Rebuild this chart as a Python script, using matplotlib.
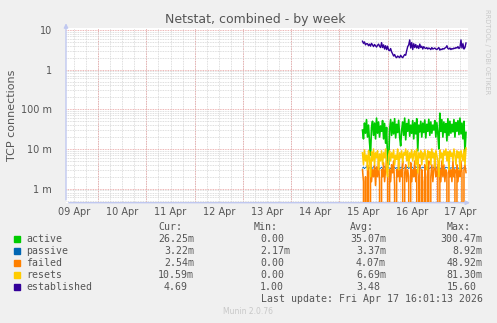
import numpy as np
import matplotlib
matplotlib.use("Agg")
import matplotlib.pyplot as plt
from matplotlib.ticker import FixedLocator, NullFormatter

# Munin netstat week graph, x in hours since 09 Apr 00:00
W, H = 497, 323
day_labels = ["09 Apr", "10 Apr", "11 Apr", "12 Apr", "13 Apr", "14 Apr", "15 Apr", "16 Apr", "17 Apr"]
t_start = 155.5  # first sample (15 Apr ~11:30), half-hour steps

# values in milli-connections
active_m = [30, 18, 45, 25, 55, 20, 40, 15, 7, 35,
            50, 22, 45, 18, 60, 25, 48, 20, 38, 28,
            52, 18, 44, 14, 35, 5, 4, 30, 55, 22,
            47, 24, 58, 19, 42, 26, 53, 20, 12, 30,
            48, 22, 60, 17, 44, 28, 55, 21, 40, 25,
            52, 18, 46, 24, 58, 9, 40, 27, 50, 20,
            45, 26, 54, 19, 42, 28, 56, 22, 48, 25,
            40, 30, 52, 20, 46, 24, 10, 80, 28, 55,
            20, 48, 26, 44, 16, 58, 22, 50, 25, 42,
            27, 55, 20, 46, 28, 52, 23, 60, 24, 45,
            18, 50, 8, 26.25]
passive_m = [3.3, 3.5, 3.2, 3.4, 3.6, 3.3, 3.1, 3.4, 3.5, 3.2,
             3.3, 3.6, 3.4, 3.2, 3.5, 3.3, 3.4, 3.1, 3.3, 3.5,
             3.2, 3.4, 3.6, 3.3, 3.2, 3.5, 3.4, 3.3, 3.2, 3.6,
             3.4, 3.3, 3.5, 3.2, 3.4, 3.3, 3.6, 3.2, 3.4, 3.5,
             3.3, 3.2, 3.4, 3.6, 3.3, 3.5, 3.2, 3.4, 3.3, 3.5,
             3.4, 3.2, 3.3, 3.6, 3.4, 3.3, 3.5, 3.2, 3.4, 3.3,
             3.5, 3.4, 3.2, 3.3, 3.6, 3.4, 3.3, 3.2, 3.5, 3.4,
             3.3, 3.5, 3.2, 3.4, 3.3, 3.6, 3.4, 3.2, 3.3, 3.5,
             3.4, 3.3, 3.2, 3.5, 3.4, 3.3, 3.6, 3.2, 3.4, 3.3,
             3.5, 3.2, 3.4, 3.3, 3.5, 3.4, 3.2, 3.3, 3.4, 3.2,
             3.3, 3.4, 3.2, 3.22]
failed_m = [3, 1.5, 0, 2, 0, 4, 2.5, 0, 5, 1.5,
            3, 2, 4, 1.2, 3.5, 2, 5, 1.5, 0, 3,
            2, 4.5, 1.5, 3, 5, 2, 0, 3, 1.5, 4,
            2.5, 5, 1.2, 0, 3, 2, 4.5, 1.5, 3, 2,
            5, 0, 2.5, 4, 1.5, 3, 2, 0, 4.5, 1.5,
            3, 2, 5, 1.5, 3, 0, 2, 4, 0, 3,
            1.5, 0, 4, 2, 0, 3, 5, 0, 2, 4,
            1.5, 3, 5, 2, 2.5, 4, 0, 3, 1.5, 5,
            2, 4, 1.5, 3, 2.5, 0, 4.5, 2, 3, 1.5,
            5, 2, 3, 0, 4, 1.5, 3, 2, 5, 2.5,
            0, 3, 4, 2.54]
resets_m = [8, 4, 9.5, 5, 7, 3, 9, 6, 2, 8.5,
            5, 10, 4, 8, 6, 9, 3, 7.5, 5, 9,
            4, 8, 6, 10, 3, 2, 7, 9, 5, 8,
            6, 9.5, 4, 7, 5.5, 10, 3, 8, 6, 9,
            4.5, 8, 7, 10, 5, 9, 3.5, 8, 6, 9.5,
            5, 7.5, 9, 4, 10, 2.5, 8, 6, 9, 4,
            8, 5.5, 9.5, 7, 3, 9, 6, 8.5, 4, 10,
            6, 8, 3.5, 9, 7, 5, 2, 9.5, 6, 8,
            4, 9, 7, 10, 5, 8.5, 3, 9, 6.5, 8,
            5, 10, 7, 4, 9, 6, 8.5, 3, 9, 7,
            5, 9.5, 4, 10.59]
established = [5.2, 4.6, 5.0, 4.2, 4.5,
               4.5, 4.0, 4.4, 3.9, 4.6, 4.2, 3.8, 4.3, 4.0, 3.7, 4.1, 4.4, 3.9, 3.6,
               4.8, 3.6, 4.2, 3.3, 4.0, 3.2, 3.9, 3.1, 3.0, 3.4, 2.8, 2.5, 2.2, 2.4,
               2.1, 2.0, 2.2, 2.1, 2.0, 2.3, 2.1, 2.0, 2.2, 2.4, 2.3,
               3.0, 3.8, 4.2, 5.6, 3.5, 4.8, 3.2,
               4.5, 3.6, 4.3, 3.5, 4.0, 3.4, 4.4, 3.6, 3.9, 3.3,
               3.8, 3.5, 3.4, 3.6, 3.3, 3.5, 3.4, 3.2, 3.6, 3.3,
               3.4, 3.5, 3.3, 3.2, 3.4, 3.6, 3.1, 3.3, 3.2, 3.4,
               3.3, 3.5, 3.6, 4.0, 3.4, 3.3, 3.5, 3.2, 3.4, 3.3,
               3.5, 3.4, 3.6, 3.5, 3.8, 3.4, 3.6, 5.6, 3.5, 4.5,
               3.3, 3.6, 4.69]

names = ["active", "passive", "failed", "resets", "established"]
colors = ["#00CC00", "#0066B3", "#FF8000", "#FFCC00", "#330099"]
cur = ["26.25m", "3.22m", "2.54m", "10.59m", "4.69"]
mins = ["0.00", "2.17m", "0.00", "0.00", "1.00"]
avgs = ["35.07m", "3.37m", "4.07m", "6.69m", "3.48"]
maxs = ["300.47m", "8.92m", "48.92m", "81.30m", "15.60"]

series = [np.array(active_m) / 1000, np.array(passive_m) / 1000, np.array(failed_m) / 1000,
          np.array(resets_m) / 1000, np.array(established)]
widths = [1.2, 0.6, 1.1, 1.1, 1.0]

fig = plt.figure(figsize=(W / 100, H / 100), dpi=100)
fig.patch.set_facecolor("#F0F0F0")

def fx(px):
    return px / W

def fy(py):
    return 1 - py / H

ax = fig.add_axes([fx(66), fy(202.7), fx(468) - fx(66), fy(28.3) - fy(202.7)])
ax.set_facecolor("white")
ax.set_yscale("log")
ax.set_xlim(8, 208)
ax.set_ylim(4.43e-4, 11.0)

# grid, rrdtool style
for h in range(12, 208, 6):
    ax.axvline(h, color="#D4D4D4", lw=0.6, ls=(0, (1, 1)), zorder=0)
for h in range(24, 208, 24):
    ax.axvline(h, color="#E89C9C", lw=0.6, ls=(0, (1, 1)), zorder=0)
for d in range(-4, 2):
    for k in range(2, 10):
        ax.axhline(k * 10.0 ** d, color="#D4D4D4", lw=0.6, ls=(0, (1, 1)), zorder=0)
    ax.axhline(10.0 ** d, color="#E89C9C", lw=0.6, ls=(0, (1, 1)), zorder=0)

for vals, c, lw in zip(series, colors, widths):
    t = t_start + 0.5 * np.arange(len(vals))
    ax.plot(t, vals, color=c, lw=lw, zorder=2)

for s in ax.spines.values():
    s.set_visible(False)

ax.yaxis.set_major_locator(FixedLocator([1e-3, 1e-2, 1e-1, 1, 10]))
ax.yaxis.set_minor_locator(FixedLocator([]))
ax.yaxis.set_minor_formatter(NullFormatter())
ax.set_yticklabels(["1 m", "10 m", "100 m", "1", "10"])
ax.set_xticks([12 + 24 * i for i in range(len(day_labels))])
ax.set_xticklabels(day_labels)
ax.tick_params(axis="both", length=0, labelsize=7, colors="#555555")
ax.tick_params(axis="y", pad=10)
ax.tick_params(axis="x", pad=3)
ax.set_ylabel("TCP connections", fontsize=8, color="#555555", labelpad=3)

# axis lines with arrows
axc = "#C0C8F0"
ax.annotate("", xy=(0, 1.045), xytext=(0, 0), xycoords="axes fraction",
            arrowprops=dict(arrowstyle="-|>", color=axc, lw=1, mutation_scale=6), annotation_clip=False)
ax.annotate("", xy=(1.012, 0), xytext=(0, 0), xycoords="axes fraction",
            arrowprops=dict(arrowstyle="-|>", color=axc, lw=1, mutation_scale=6), annotation_clip=False)

fig.text(fx(255), fy(19), "Netstat, combined - by week", ha="center", va="center",
         fontsize=9, color="#555555")
fig.text(fx(487), fy(52), "RRDTOOL / TOBI OETIKER", rotation=270, ha="center", va="center",
         fontsize=4.8, color="#C8C8C8")

# legend table
mono = dict(family="DejaVu Sans Mono", fontsize=7.1, color="#555555", va="center")
cw = 5.97
col_right = [194, 290, 386, 482.7]
for hdr, xr in zip(["Cur:", "Min:", "Avg:", "Max:"], col_right):
    fig.text(fx(xr - 2 * cw), fy(227), hdr, ha="right", **mono)
for i, name in enumerate(names):
    yy = 239.3 + 12 * i
    fig.patches.append(plt.Rectangle((fx(14), fy(yy + 3)), fx(6), fy(yy - 3) - fy(yy + 3),
                                     transform=fig.transFigure, color=colors[i], figure=fig))
    fig.text(fx(26), fy(yy), name, ha="left", **mono)
    for vals, xr in zip([cur, mins, avgs, maxs], col_right):
        v = vals[i]
        shift = 0 if v.endswith("m") else cw
        fig.text(fx(xr - shift), fy(yy), v, ha="right", **mono)
fig.text(fx(482.7), fy(299.3), "Last update: Fri Apr 17 16:01:13 2026", ha="right", **mono)
fig.text(fx(248), fy(312), "Munin 2.0.76", ha="center", va="center", fontsize=5.5, color="#C8C8C8")

fig.savefig("out.png", dpi=100, facecolor=fig.get_facecolor())
